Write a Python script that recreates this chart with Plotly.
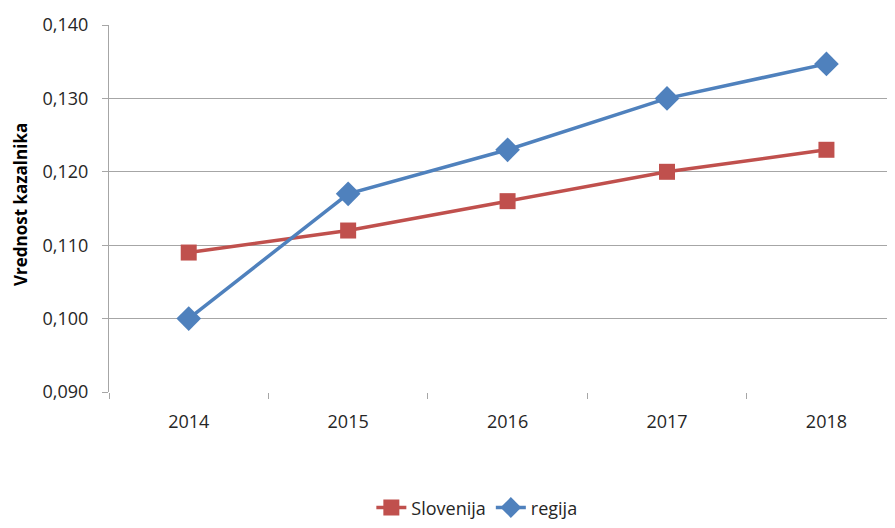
import plotly.graph_objects as go

years = ["2014", "2015", "2016", "2017", "2018"]
slovenija = [0.109, 0.112, 0.116, 0.120, 0.123]
regija = [0.100, 0.117, 0.123, 0.130, 0.1347]

red = "#C0504D"
blue = "#4F81BD"
grid = "#A6A6A6"
font_name = "Open Sans"

fig = go.Figure()

fig.add_trace(go.Scatter(
    x=years, y=slovenija, mode="lines+markers", name="Slovenija",
    line=dict(color=red, width=3.5),
    marker=dict(symbol="square", size=16, color=red)
))
fig.add_trace(go.Scatter(
    x=years, y=regija, mode="lines+markers", name="regija",
    line=dict(color=blue, width=3.5),
    marker=dict(symbol="diamond", size=19, color=blue)
))

# page body has an 8px margin, so size the figure to fit the window
fig.update_layout(
    width=887, height=520,
    margin=dict(l=101, r=0, t=17, b=136, autoexpand=False),
    paper_bgcolor="white", plot_bgcolor="white",
    font=dict(family=font_name, size=18, color="#262626"),
    separators=",.",
    showlegend=True,
    legend=dict(orientation="h", x=0.468, y=-0.366, xanchor="center", yanchor="bottom",
                font=dict(size=18, color="#262626"), traceorder="normal"),
    annotations=[dict(text="<b>Vrednost kazalnika</b>", textangle=-90,
                      x=-0.1132, y=0.5095, xref="paper", yref="paper",
                      xanchor="center", yanchor="middle",
                      showarrow=False, font=dict(size=17, color="black"))],
)

fig.update_xaxes(
    type="category", range=[-0.5, 4.43],
    tickson="boundaries", ticks="outside", ticklen=6, tickcolor=grid,
    showgrid=False, showline=False, zeroline=False,
    ticklabelstandoff=17,
)
fig.update_yaxes(
    range=[0.090, 0.140], dtick=0.01, tickformat=".3f",
    showgrid=True, gridcolor=grid, gridwidth=1,
    showline=True, linecolor=grid, linewidth=1,
    ticks="outside", ticklen=6, tickcolor=grid,
    zeroline=False, ticklabelstandoff=10,
)

fig.write_html("out.html")
